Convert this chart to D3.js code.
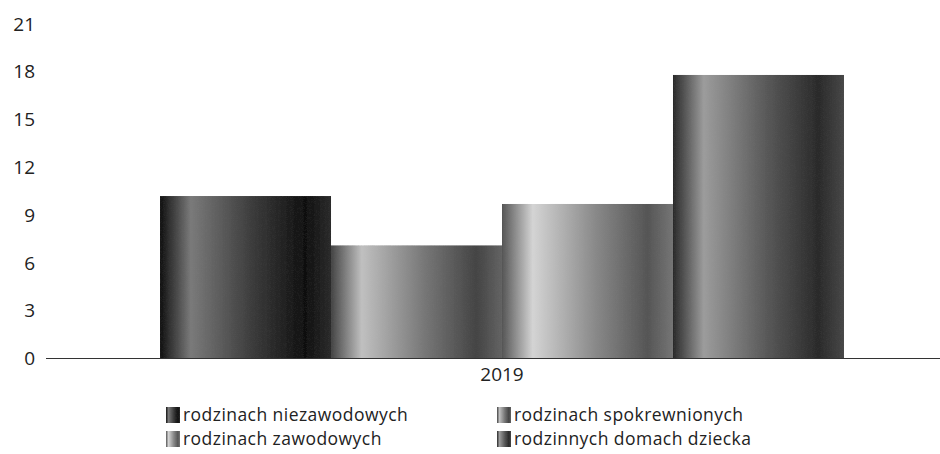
<!DOCTYPE html>
<html>
<head>
<meta charset="utf-8">
<script src="https://cdn.jsdelivr.net/npm/d3@7"></script>
<style>
  body { margin: 0; background: #fff; }
  text { font-family: "Open Sans", "Noto Sans", sans-serif; fill: #222; }
</style>
</head>
<body>
<svg id="chart" width="940" height="454"></svg>
<script>
const years = ["2019"];
const seriesNames = ["rodzinach niezawodowych", "rodzinach spokrewnionych", "rodzinach zawodowych", "rodzinnych domach dziecka"];
const seriesValues = [10.2, 7.1, 9.7, 17.8];
const yTicks = [0, 3, 6, 9, 12, 15, 18, 21];
// dark / light pairs for the cylinder shading of each bar
const shadeDark = ["#101010", "#444444", "#555555", "#2a2a2a"];
const shadeLight = ["#7a7a7a", "#c0c0c0", "#d4d4d4", "#9c9c9c"];

const svg = d3.select("#chart");
const width = 940, height = 454;
const margin = {top: 24, left: 46, bottom: 96};

const y = d3.scaleLinear().domain([0, 21]).range([358.5, margin.top]);
const x0 = d3.scaleBand().domain(years).range([margin.left, 958]).paddingInner(0).paddingOuter(0.1667);
const x1 = d3.scaleBand().domain(seriesNames).range([0, x0.bandwidth()]);

const defs = svg.append("defs");
seriesNames.forEach(function(s, i) {
    const g = defs.append("linearGradient").attr("id", "grad" + i)
        .attr("x1", "0%").attr("x2", "100%").attr("y1", "0%").attr("y2", "0%");
    g.append("stop").attr("offset", "0%").attr("stop-color", shadeDark[i]);
    g.append("stop").attr("offset", "18%").attr("stop-color", shadeLight[i]);
    g.append("stop").attr("offset", "55%").attr("stop-color", d3.interpolateRgb(shadeLight[i], shadeDark[i])(0.6));
    g.append("stop").attr("offset", "85%").attr("stop-color", shadeDark[i]);
    g.append("stop").attr("offset", "100%").attr("stop-color", d3.interpolateRgb(shadeDark[i], shadeLight[i])(0.25));
});

// grain to mimic the printed halftone
const f = defs.append("filter").attr("id", "grain").attr("x", 0).attr("y", 0).attr("width", 1).attr("height", 1);
f.append("feTurbulence").attr("type", "fractalNoise").attr("baseFrequency", 0.9).attr("numOctaves", 1).attr("seed", 3).attr("result", "noise");
f.append("feColorMatrix").attr("in", "noise").attr("type", "matrix")
    .attr("values", "0 0 0 0 0.5  0 0 0 0 0.5  0 0 0 0 0.5  1.6 0 0 0 -0.55").attr("result", "n2");
f.append("feComposite").attr("in", "n2").attr("in2", "SourceGraphic").attr("operator", "in").attr("result", "n3");
f.append("feBlend").attr("in", "SourceGraphic").attr("in2", "n3").attr("mode", "overlay");

// y axis labels
const yAxis = svg.append("g").attr("transform", "translate(35,0)")
    .call(d3.axisLeft(y).tickValues(yTicks).tickSize(0).tickPadding(0));
yAxis.select(".domain").remove();
yAxis.selectAll("text").style("font-size", "19px").attr("fill", "#222");

// bars
const groups = svg.append("g").selectAll("g").data(years).enter().append("g")
    .attr("transform", d => "translate(" + x0(d) + ",0)");
groups.selectAll("rect")
    .data(seriesNames.map((s, i) => ({name: s, value: seriesValues[i], i: i})))
    .enter().append("rect")
    .attr("x", d => x1(d.name))
    .attr("width", x1.bandwidth())
    .attr("y", d => y(d.value))
    .attr("height", d => y(0) - y(d.value))
    .attr("fill", d => "url(#grad" + d.i + ")")
    .attr("filter", "url(#grain)");

// baseline
svg.append("line")
    .attr("x1", margin.left).attr("x2", width)
    .attr("y1", y(0)).attr("y2", y(0))
    .attr("stroke", "#333").attr("stroke-width", 1.2);

// x axis label
const xAxis = svg.append("g").attr("transform", "translate(0," + y(0) + ")")
    .call(d3.axisBottom(x0).tickSize(0).tickPadding(9));
xAxis.select(".domain").remove();
xAxis.selectAll("text").style("font-size", "19px").attr("fill", "#222");

// legend, two columns filled row by row
const legendPos = [[166, 415], [497, 415], [166, 439], [497, 439]];
const legend = svg.append("g").selectAll("g").data(seriesNames).enter().append("g")
    .attr("transform", (d, i) => "translate(" + legendPos[i][0] + "," + legendPos[i][1] + ")");
legend.append("rect")
    .attr("x", 0).attr("y", -8).attr("width", 14).attr("height", 16)
    .attr("fill", (d, i) => "url(#grad" + i + ")")
    .attr("filter", "url(#grain)");
legend.append("text")
    .attr("x", 17).attr("y", 0).attr("dy", "0.35em")
    .style("font-size", "17.5px")
    .style("letter-spacing", "0.45px")
    .text(d => d);
</script>
</body>
</html>
